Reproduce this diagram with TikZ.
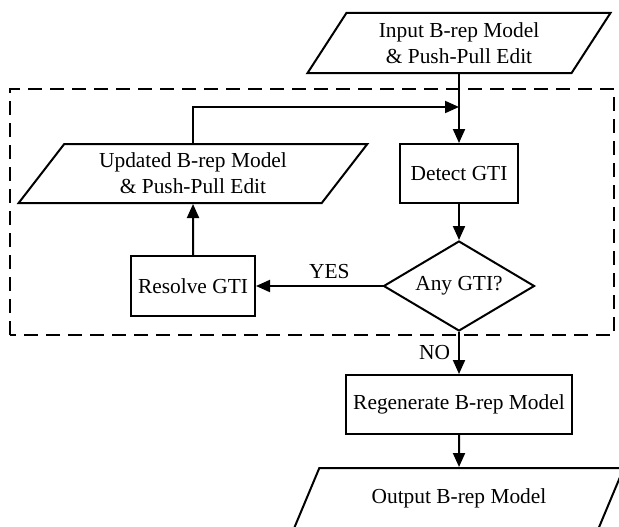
\documentclass[tikz,border=0pt]{standalone}
\usepackage{fontspec}
\setmainfont{Liberation Serif}
\usetikzlibrary{positioning,arrows.meta,shapes.geometric}

\begin{document}
\begin{tikzpicture}[x=.5pt,y=.5pt,line width=1pt,
    every node/.style={font=\fontsize{10.7}{13}\selectfont,align=center,inner sep=0pt},
    procbox/.style={draw,rectangle},
    iobox/.style={draw,trapezium,trapezium stretches=true},
    choice/.style={draw,diamond,aspect=1.7},
    >={Triangle[length=7pt,width=6pt]}]
    \useasboundingbox (0,0) rectangle (619,526);
    \clip (0,0) rectangle (619,526);
    % loop frame
    \draw[dash pattern=on 7pt off 4pt] (10,191) rectangle (614,437);
    \node[iobox,trapezium left angle=56,trapezium right angle=124,minimum width=151.5pt,minimum height=30pt] (input) at (459,483) {Input B-rep Model\\\& Push-Pull Edit};
    \node[procbox,minimum width=59pt,minimum height=29.5pt] (detect) at (459,352.5) {Detect GTI};
    \node[iobox,trapezium left angle=51,trapezium right angle=129,minimum width=174.5pt,minimum height=29.5pt] (updated) at (193,352.5) {Updated B-rep Model\\\& Push-Pull Edit};
    \node[choice,minimum width=75.5pt,minimum height=45pt] (anygti) at (459,240) {Any GTI?};
    \node[procbox,minimum width=62pt,minimum height=30pt] (resolve) at (193,240) {Resolve GTI};
    \node[procbox,minimum width=113pt,minimum height=29.5pt] (regen) at (459,121.5) {Regenerate B-rep Model};
    \node[iobox,trapezium left angle=51,trapezium right angle=129,minimum width=165pt,minimum height=30pt] (output) at (459,28) {Output B-rep Model};
    \coordinate (join) at (459,419);
    % flow
    \draw[->] (input) -- (detect);
    \draw[->] (updated.north) |- (join);
    \draw[->] (detect) -- (anygti);
    \draw[->] (anygti) -- node[above=3pt,pos=.42]{YES} (resolve);
    \draw[->] (resolve) -- (updated);
    \draw[->] (anygti) -- node[left=4pt]{NO} (regen);
    \draw[->] (regen) -- (output);
\end{tikzpicture}
\end{document}
